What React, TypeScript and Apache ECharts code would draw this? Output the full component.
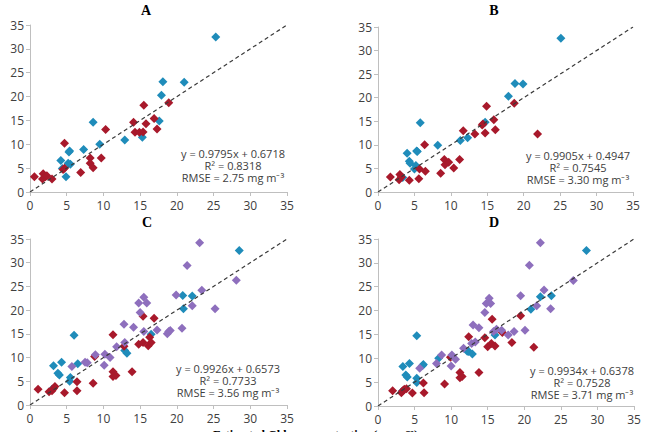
import React, { useEffect, useRef } from "react";
import * as echarts from "echarts";

// Panel A: estimated (x) vs measured (y) Chl-a
const aBlue: number[][] = [
  [25.3, 32.5], [18.1, 23.1], [21.0, 23.0], [17.9, 20.3], [8.6, 14.6], [17.6, 14.9],
  [12.9, 10.9], [15.3, 11.5], [9.5, 10.0], [7.3, 8.9], [5.3, 8.4], [5.4, 8.6],
  [4.2, 6.6], [5.2, 6.0], [5.5, 5.8], [4.4, 4.9], [4.9, 3.2],
];
const aRed: number[][] = [
  [0.6, 3.2], [1.7, 2.7], [1.8, 3.8], [2.1, 3.2], [2.3, 3.4], [3.0, 2.7], [4.7, 10.2],
  [4.5, 4.7], [4.7, 5.0], [6.9, 4.1], [8.2, 7.1], [8.2, 6.0], [8.6, 5.1], [9.7, 7.1],
  [10.3, 13.1], [14.1, 14.6], [15.5, 18.2], [18.9, 18.7], [16.9, 15.4], [15.8, 14.3],
  [17.3, 13.2], [14.3, 12.5], [14.9, 12.5], [15.4, 12.6],
];

// Panel B
const bBlue: number[][] = [
  [25.1, 32.6], [18.8, 23.0], [19.9, 22.9], [17.9, 20.3], [5.8, 14.7], [14.7, 14.8],
  [11.3, 10.9], [12.3, 11.5], [8.2, 9.9], [4.0, 8.2], [5.3, 8.7], [5.4, 8.6],
  [4.3, 6.5], [4.4, 6.1], [5.2, 5.6], [5.0, 4.9], [3.4, 3.1],
];
const bRed: number[][] = [
  [1.7, 3.2], [3.0, 3.7], [3.2, 3.2], [2.9, 2.6], [4.3, 2.5], [5.6, 2.8], [5.7, 4.9],
  [6.5, 4.4], [6.4, 10.0], [8.6, 4.0], [9.1, 6.9], [9.2, 5.8], [9.7, 6.3], [10.4, 5.1],
  [11.2, 6.9], [11.7, 13.0], [13.3, 12.3], [14.4, 14.4], [14.3, 14.2], [14.9, 18.2],
  [14.7, 12.5], [15.9, 15.3], [16.1, 13.2], [18.7, 18.8], [21.9, 12.3],
];

// Panel C
const cBlue: number[][] = [
  [28.5, 32.6], [20.8, 23.1], [22.1, 23.0], [20.9, 20.3], [6.0, 14.7], [16.5, 14.9],
  [12.9, 11.5], [13.2, 10.9], [4.3, 9.0], [3.2, 8.3], [6.5, 8.7], [3.8, 6.7],
  [4.0, 6.3], [5.5, 5.8], [5.4, 5.0], [3.0, 3.3],
];
const cRed: number[][] = [
  [1.1, 3.3], [2.6, 2.8], [3.0, 3.0], [3.2, 3.5], [3.4, 3.9], [4.7, 2.6], [6.4, 4.9],
  [6.4, 3.0], [8.6, 4.6], [8.8, 10.2], [11.3, 14.8], [11.3, 7.0], [11.3, 6.0], [11.7, 6.2],
  [13.9, 7.0], [12.8, 12.4], [14.8, 12.8], [15.4, 18.7], [15.4, 13.2], [16.1, 12.5],
  [16.3, 14.3], [16.9, 18.3], [16.5, 13.2],
];
const cPurple: number[][] = [
  [23.1, 34.2], [21.4, 29.4], [28.1, 26.3], [23.4, 24.2], [19.9, 23.2], [22.1, 20.9],
  [25.2, 20.3], [15.5, 22.7], [14.8, 21.5], [15.9, 21.5], [15.0, 19.5], [12.8, 17.0],
  [14.1, 16.4], [15.5, 15.5], [17.3, 15.8], [18.9, 15.5], [18.7, 15.0], [19.1, 15.7],
  [20.7, 16.2], [12.9, 13.2], [11.8, 12.3], [8.9, 10.6], [10.2, 10.7], [10.9, 10.0],
  [10.1, 8.4], [7.5, 9.0], [7.8, 8.9], [5.7, 8.1],
];

// Panel D
const dBlue: number[][] = [
  [28.5, 32.6], [22.2, 22.9], [23.7, 23.1], [20.9, 20.3], [5.3, 14.7], [16.0, 14.9],
  [12.2, 11.5], [12.4, 11.4], [12.9, 10.9], [8.3, 10.0], [3.4, 8.3], [4.3, 8.9],
  [6.1, 8.5], [6.2, 8.7], [3.8, 6.5], [4.0, 6.1], [5.3, 5.8], [5.3, 4.9], [3.3, 3.1],
];
const dRed: number[][] = [
  [2.0, 3.2], [3.2, 2.8], [3.4, 3.2], [3.6, 3.5], [3.9, 3.6], [4.7, 2.7], [6.2, 4.8],
  [6.3, 2.8], [9.1, 4.6], [9.9, 10.2], [12.4, 14.5], [11.2, 7.0], [11.2, 5.9], [11.5, 6.2],
  [13.8, 7.0], [14.6, 14.3], [15.0, 12.4], [15.6, 18.2], [15.5, 13.1], [16.0, 12.6],
  [17.0, 15.4], [18.3, 13.3], [19.5, 18.9], [21.3, 12.3],
];
const dPurple: number[][] = [
  [22.2, 34.2], [20.7, 29.5], [26.7, 26.3], [22.7, 24.3], [19.5, 23.1], [21.7, 21.0],
  [23.6, 20.4], [15.2, 22.6], [14.8, 21.5], [15.4, 21.5], [14.6, 19.6], [13.0, 17.0],
  [13.8, 16.4], [15.8, 15.6], [16.2, 16.1], [16.9, 15.9], [17.8, 14.9], [18.6, 15.6],
  [20.1, 15.9], [11.7, 12.1], [12.8, 13.1], [13.3, 13.4], [8.7, 10.7], [10.1, 10.7],
  [10.6, 9.8], [10.0, 8.4], [8.0, 8.9], [5.7, 7.9],
];

const oneToOne: number[][] = [[0, 0], [35, 35]];
const axisTicks = { min: 0, max: 35, interval: 5 };

const panelTitles = ["A", "B", "C", "D"];
const equations = [
  ["y = 0.9795x + 0.6718", "R² = 0.8318", "RMSE = 2.75 mg m⁻³"],
  ["y = 0.9905x + 0.4947", "R² = 0.7545", "RMSE = 3.30 mg m⁻³"],
  ["y = 0.9926x + 0.6573", "R² = 0.7733", "RMSE = 3.56 mg m⁻³"],
  ["y = 0.9934x + 0.6378", "R² = 0.7528", "RMSE = 3.71 mg m⁻³"],
];
const xAxisTitle = "Estimated Chl-a concentration (mg m⁻³)";

const BLUE = "#1f8cba";
const RED = "#a8192b";
const PURPLE = "#8e6fbd";

const grids = [
  { left: 30, top: 25, width: 257, height: 167 },
  { left: 378, top: 27, width: 255, height: 165 },
  { left: 30, top: 239, width: 257, height: 166 },
  { left: 378, top: 239, width: 256, height: 167 },
];
const titlePos = [
  [146, 3], [494, 3], [147, 215], [494, 215],
];
const eqPos = [
  [233, 147], [578, 149], [228, 362], [582, 364],
];

const panels = [
  { blue: aBlue, red: aRed, purple: [] as number[][] },
  { blue: bBlue, red: bRed, purple: [] as number[][] },
  { blue: cBlue, red: cRed, purple: cPurple },
  { blue: dBlue, red: dRed, purple: dPurple },
];

function axis(gridIndex: number, kind: "x" | "y") {
  return {
    type: "value",
    gridIndex,
    ...axisTicks,
    splitLine: { show: false },
    axisLine: { show: true, lineStyle: { color: "#bfbfbf", width: 1 } },
    axisTick: { show: true, length: 4, lineStyle: { color: "#bfbfbf" } },
    axisLabel: {
      color: "#404040",
      fontSize: 12,
      fontFamily: "Open Sans",
      margin: kind === "x" ? 7 : 6,
    },
  };
}

export default function App() {
  const ref = useRef<HTMLDivElement>(null);

  useEffect(() => {
    if (!ref.current) return;
    const chart = echarts.init(ref.current, undefined, { renderer: "svg" });

    const series: any[] = [];
    panels.forEach((p, i) => {
      const scatter = (data: number[][], color: string) => ({
        type: "scatter",
        xAxisIndex: i,
        yAxisIndex: i,
        data,
        symbol: "diamond",
        symbolSize: [9, 9],
        itemStyle: { color, opacity: 1 },
        silent: true,
      });
      series.push(scatter(p.blue, BLUE));
      series.push(scatter(p.red, RED));
      if (p.purple.length) series.push(scatter(p.purple, PURPLE));
      series.push({
        type: "line",
        xAxisIndex: i,
        yAxisIndex: i,
        data: oneToOne,
        symbol: "none",
        z: 5,
        lineStyle: { color: "#3a3a3a", width: 1.2, type: [4, 3] },
        silent: true,
      });
    });

    const graphic: any[] = [];
    panelTitles.forEach((t, i) => {
      graphic.push({
        type: "text",
        x: titlePos[i][0],
        y: titlePos[i][1],
        style: {
          text: t,
          fill: "#000",
          font: "bold 14px 'Liberation Serif', serif",
          textAlign: "center",
          textVerticalAlign: "top",
        },
      });
      graphic.push({
        type: "text",
        x: eqPos[i][0],
        y: eqPos[i][1],
        style: {
          text: equations[i].join("\n"),
          fill: "#404040",
          font: "11px 'Open Sans'",
          lineHeight: 12,
          textAlign: "center",
          textVerticalAlign: "top",
        },
      });
    });
    graphic.push({
      type: "text",
      x: 213,
      y: 428.5,
      style: {
        text: xAxisTitle,
        fill: "#000",
        font: "bold 12px 'Liberation Serif', serif",
        textAlign: "left",
        textVerticalAlign: "top",
      },
    });

    chart.setOption({
      animation: false,
      backgroundColor: "#ffffff",
      grid: grids.map((g) => ({ ...g, containLabel: false })),
      xAxis: grids.map((_, i) => axis(i, "x")),
      yAxis: grids.map((_, i) => axis(i, "y")),
      series,
      graphic,
    });

    return () => chart.dispose();
  }, []);

  return (
    <div
      ref={ref}
      style={{ position: "fixed", left: 0, top: 0, width: 645, height: 432 }}
    />
  );
}
